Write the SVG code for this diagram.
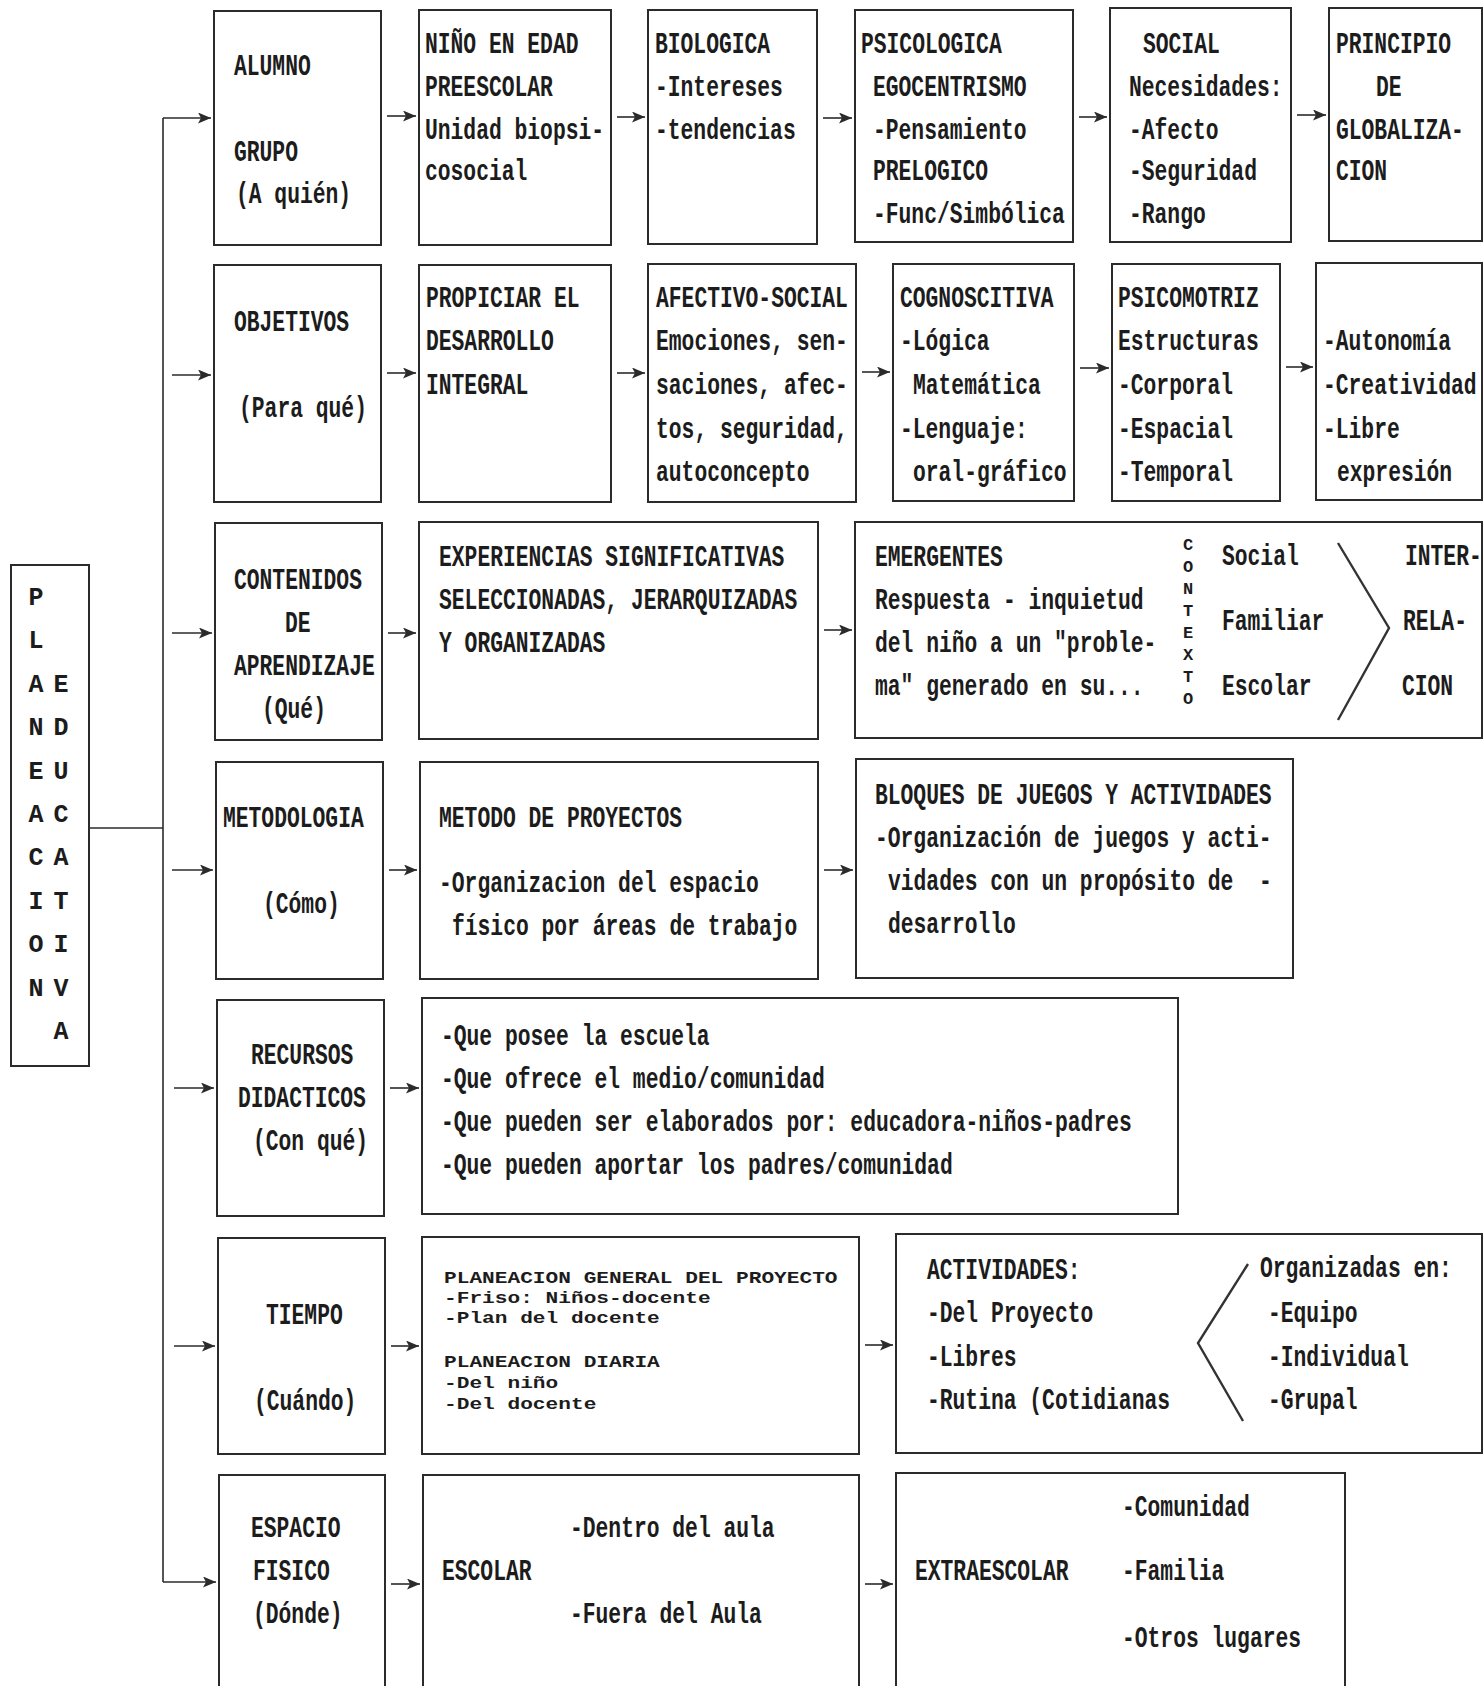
<svg xmlns="http://www.w3.org/2000/svg" width="1484" height="1686" viewBox="0 0 1484 1686">
<style>
.bx{fill:none;stroke:#2b2b2b;stroke-width:2}
.ln{fill:none;stroke:#2b2b2b;stroke-width:1.6}
.ch{fill:none;stroke:#333;stroke-width:2.4}
text{font-family:"Liberation Mono","DejaVu Sans Mono",monospace;font-weight:bold;fill:#1c1c1c}
.t{font-size:29px;transform-box:fill-box;transform-origin:0 0;transform:scaleX(0.7356)}
.s{font-size:17px;transform-box:fill-box;transform-origin:0 0;transform:scaleX(1.245)}
.c{font-size:17px;text-anchor:middle}
.v{font-size:25px;text-anchor:middle}
</style>
<defs>
<marker id="ah" viewBox="0 0 13 11" refX="13" refY="5.5" markerWidth="13" markerHeight="11" markerUnits="userSpaceOnUse" orient="auto">
<path d="M0,0 L13,5.5 L0,11 L3,5.5 Z" fill="#2b2b2b"/>
</marker>
</defs>
<rect width="1484" height="1686" fill="#fff"/>

<g id="connectors">
<line class="ln" x1="89" y1="828" x2="163" y2="828"/>
<line class="ln" x1="163" y1="118" x2="163" y2="1582"/>
<line class="ln" x1="163" y1="118" x2="211" y2="118" marker-end="url(#ah)"/>
<line class="ln" x1="172" y1="375" x2="211" y2="375" marker-end="url(#ah)"/>
<line class="ln" x1="172" y1="633" x2="212" y2="633" marker-end="url(#ah)"/>
<line class="ln" x1="172" y1="870" x2="213" y2="870" marker-end="url(#ah)"/>
<line class="ln" x1="174" y1="1088" x2="214" y2="1088" marker-end="url(#ah)"/>
<line class="ln" x1="174" y1="1346" x2="215" y2="1346" marker-end="url(#ah)"/>
<line class="ln" x1="163" y1="1582" x2="216" y2="1582" marker-end="url(#ah)"/>
<line class="ln" x1="387" y1="116" x2="416" y2="116" marker-end="url(#ah)"/>
<line class="ln" x1="617" y1="117" x2="645" y2="117" marker-end="url(#ah)"/>
<line class="ln" x1="823" y1="118" x2="852" y2="118" marker-end="url(#ah)"/>
<line class="ln" x1="1079" y1="117" x2="1107" y2="117" marker-end="url(#ah)"/>
<line class="ln" x1="1297" y1="115" x2="1326" y2="115" marker-end="url(#ah)"/>
<line class="ln" x1="387" y1="373" x2="416" y2="373" marker-end="url(#ah)"/>
<line class="ln" x1="617" y1="373" x2="645" y2="373" marker-end="url(#ah)"/>
<line class="ln" x1="862" y1="372" x2="890" y2="372" marker-end="url(#ah)"/>
<line class="ln" x1="1080" y1="368" x2="1109" y2="368" marker-end="url(#ah)"/>
<line class="ln" x1="1286" y1="367" x2="1313" y2="367" marker-end="url(#ah)"/>
<line class="ln" x1="388" y1="633" x2="416" y2="633" marker-end="url(#ah)"/>
<line class="ln" x1="824" y1="630" x2="852" y2="630" marker-end="url(#ah)"/>
<line class="ln" x1="389" y1="870" x2="417" y2="870" marker-end="url(#ah)"/>
<line class="ln" x1="824" y1="870" x2="853" y2="870" marker-end="url(#ah)"/>
<line class="ln" x1="390" y1="1088" x2="419" y2="1088" marker-end="url(#ah)"/>
<line class="ln" x1="391" y1="1346" x2="419" y2="1346" marker-end="url(#ah)"/>
<line class="ln" x1="865" y1="1345" x2="893" y2="1345" marker-end="url(#ah)"/>
<line class="ln" x1="391" y1="1584" x2="420" y2="1584" marker-end="url(#ah)"/>
<line class="ln" x1="865" y1="1584" x2="893" y2="1584" marker-end="url(#ah)"/>
</g>

<g id="planeacion">
<rect class="bx" x="11" y="565" width="78" height="501"/>
<text class="v" x="36" y="605">P</text>
<text class="v" x="36" y="648">L</text>
<text class="v" x="36" y="692">A</text>
<text class="v" x="36" y="735">N</text>
<text class="v" x="36" y="779">E</text>
<text class="v" x="36" y="822">A</text>
<text class="v" x="36" y="865">C</text>
<text class="v" x="36" y="909">I</text>
<text class="v" x="36" y="952">O</text>
<text class="v" x="36" y="996">N</text>
<text class="v" x="61" y="692">E</text>
<text class="v" x="61" y="735">D</text>
<text class="v" x="61" y="779">U</text>
<text class="v" x="61" y="822">C</text>
<text class="v" x="61" y="865">A</text>
<text class="v" x="61" y="909">T</text>
<text class="v" x="61" y="952">I</text>
<text class="v" x="61" y="996">V</text>
<text class="v" x="61" y="1039">A</text>
</g>

<g id="alumno">
<rect class="bx" x="214" y="11" width="167" height="234"/>
<text class="t" x="234" y="75">ALUMNO</text>
<text class="t" x="234" y="161">GRUPO</text>
<text class="t" x="236" y="203">(A quién)</text>
</g>
<g id="nino">
<rect class="bx" x="419" y="10" width="192" height="235"/>
<text class="t" x="425" y="53">NIÑO EN EDAD</text>
<text class="t" x="425" y="96">PREESCOLAR</text>
<text class="t" x="425" y="139">Unidad biopsi-</text>
<text class="t" x="425" y="180">cosocial</text>
</g>
<g id="biologica">
<rect class="bx" x="648" y="10" width="169" height="234"/>
<text class="t" x="655" y="53">BIOLOGICA</text>
<text class="t" x="655" y="96">-Intereses</text>
<text class="t" x="655" y="139">-tendencias</text>
</g>
<g id="psicologica">
<rect class="bx" x="855" y="10" width="218" height="232"/>
<text class="t" x="861" y="53">PSICOLOGICA</text>
<text class="t" x="873" y="96">EGOCENTRISMO</text>
<text class="t" x="873" y="139">-Pensamiento</text>
<text class="t" x="873" y="180">PRELOGICO</text>
<text class="t" x="873" y="223">-Func/Simbólica</text>
</g>
<g id="social">
<rect class="bx" x="1110" y="8" width="181" height="234"/>
<text class="t" x="1143" y="53">SOCIAL</text>
<text class="t" x="1129" y="96">Necesidades:</text>
<text class="t" x="1129" y="139">-Afecto</text>
<text class="t" x="1129" y="180">-Seguridad</text>
<text class="t" x="1129" y="223">-Rango</text>
</g>
<g id="principio">
<rect class="bx" x="1329" y="8" width="153" height="233"/>
<text class="t" x="1336" y="53">PRINCIPIO</text>
<text class="t" x="1376" y="96">DE</text>
<text class="t" x="1336" y="139">GLOBALIZA-</text>
<text class="t" x="1336" y="180">CION</text>
</g>

<g id="objetivos">
<rect class="bx" x="214" y="265" width="167" height="237"/>
<text class="t" x="234" y="331">OBJETIVOS</text>
<text class="t" x="239" y="417">(Para qué)</text>
</g>
<g id="propiciar">
<rect class="bx" x="419" y="265" width="192" height="237"/>
<text class="t" x="426" y="307">PROPICIAR EL</text>
<text class="t" x="426" y="350">DESARROLLO</text>
<text class="t" x="426" y="394">INTEGRAL</text>
</g>
<g id="afectivo">
<rect class="bx" x="648" y="264" width="208" height="238"/>
<text class="t" x="656" y="307">AFECTIVO-SOCIAL</text>
<text class="t" x="656" y="350">Emociones, sen-</text>
<text class="t" x="656" y="394">saciones, afec-</text>
<text class="t" x="656" y="438">tos, seguridad,</text>
<text class="t" x="656" y="481">autoconcepto</text>
</g>
<g id="cognoscitiva">
<rect class="bx" x="893" y="264" width="181" height="237"/>
<text class="t" x="900" y="307">COGNOSCITIVA</text>
<text class="t" x="900" y="350">-Lógica</text>
<text class="t" x="913" y="394">Matemática</text>
<text class="t" x="900" y="438">-Lenguaje:</text>
<text class="t" x="913" y="481">oral-gráfico</text>
</g>
<g id="psicomotriz">
<rect class="bx" x="1112" y="264" width="168" height="237"/>
<text class="t" x="1118" y="307">PSICOMOTRIZ</text>
<text class="t" x="1118" y="350">Estructuras</text>
<text class="t" x="1118" y="394">-Corporal</text>
<text class="t" x="1118" y="438">-Espacial</text>
<text class="t" x="1118" y="481">-Temporal</text>
</g>
<g id="autonomia">
<rect class="bx" x="1316" y="263" width="166" height="237"/>
<text class="t" x="1323" y="350">-Autonomía</text>
<text class="t" x="1323" y="394">-Creatividad</text>
<text class="t" x="1323" y="438">-Libre</text>
<text class="t" x="1337" y="481">expresión</text>
</g>

<g id="contenidos">
<rect class="bx" x="215" y="523" width="167" height="217"/>
<text class="t" x="234" y="589">CONTENIDOS</text>
<text class="t" x="285" y="632">DE</text>
<text class="t" x="234" y="675">APRENDIZAJE</text>
<text class="t" x="262" y="718">(Qué)</text>
</g>
<g id="experiencias">
<rect class="bx" x="419" y="522" width="399" height="217"/>
<text class="t" x="439" y="566">EXPERIENCIAS SIGNIFICATIVAS</text>
<text class="t" x="439" y="609">SELECCIONADAS, JERARQUIZADAS</text>
<text class="t" x="439" y="652">Y ORGANIZADAS</text>
</g>
<g id="emergentes">
<rect class="bx" x="855" y="522" width="627" height="216"/>
<text class="t" x="875" y="566">EMERGENTES</text>
<text class="t" x="875" y="609">Respuesta - inquietud</text>
<text class="t" x="875" y="652">del niño a un "proble-</text>
<text class="t" x="875" y="695">ma" generado en su...</text>
<text class="c" x="1188" y="550">C<tspan x="1188" dy="22">O</tspan><tspan x="1188" dy="22">N</tspan><tspan x="1188" dy="22">T</tspan><tspan x="1188" dy="22">E</tspan><tspan x="1188" dy="22">X</tspan><tspan x="1188" dy="22">T</tspan><tspan x="1188" dy="22">O</tspan></text>
<text class="t" x="1222" y="565">Social</text>
<text class="t" x="1222" y="630">Familiar</text>
<text class="t" x="1222" y="695">Escolar</text>
<polyline class="ch" points="1338,543 1389,628 1338,720"/>
<text class="t" x="1405" y="565">INTER-</text>
<text class="t" x="1403" y="630">RELA-</text>
<text class="t" x="1402" y="695">CION</text>
</g>

<g id="metodologia">
<rect class="bx" x="216" y="762" width="167" height="217"/>
<text class="t" x="223" y="827">METODOLOGIA</text>
<text class="t" x="263" y="913">(Cómo)</text>
</g>
<g id="metodo">
<rect class="bx" x="420" y="762" width="398" height="217"/>
<text class="t" x="439" y="827">METODO DE PROYECTOS</text>
<text class="t" x="439" y="892">-Organizacion del espacio</text>
<text class="t" x="452" y="935">físico por áreas de trabajo</text>
</g>
<g id="bloques">
<rect class="bx" x="856" y="759" width="437" height="219"/>
<text class="t" x="875" y="804">BLOQUES DE JUEGOS Y ACTIVIDADES</text>
<text class="t" x="875" y="847">-Organización de juegos y acti-</text>
<text class="t" x="888" y="890" xml:space="preserve">vidades con un propósito de  -</text>
<text class="t" x="888" y="933">desarrollo</text>
</g>

<g id="recursos">
<rect class="bx" x="217" y="1000" width="167" height="216"/>
<text class="t" x="251" y="1064">RECURSOS</text>
<text class="t" x="238" y="1107">DIDACTICOS</text>
<text class="t" x="253" y="1150">(Con qué)</text>
</g>
<g id="recursos-lista">
<rect class="bx" x="422" y="998" width="756" height="216"/>
<text class="t" x="441" y="1045">-Que posee la escuela</text>
<text class="t" x="441" y="1088">-Que ofrece el medio/comunidad</text>
<text class="t" x="441" y="1131">-Que pueden ser elaborados por: educadora-niños-padres</text>
<text class="t" x="441" y="1174">-Que pueden aportar los padres/comunidad</text>
</g>

<g id="tiempo">
<rect class="bx" x="218" y="1238" width="167" height="216"/>
<text class="t" x="266" y="1324">TIEMPO</text>
<text class="t" x="254" y="1410">(Cuándo)</text>
</g>
<g id="planeacion-proyecto">
<rect class="bx" x="422" y="1237" width="437" height="217"/>
<text class="s" x="444" y="1283">PLANEACION GENERAL DEL PROYECTO</text>
<text class="s" x="444" y="1303">-Friso: Niños-docente</text>
<text class="s" x="444" y="1323">-Plan del docente</text>
<text class="s" x="444" y="1367">PLANEACION DIARIA</text>
<text class="s" x="444" y="1388">-Del niño</text>
<text class="s" x="444" y="1409">-Del docente</text>
</g>
<g id="actividades">
<rect class="bx" x="896" y="1234" width="586" height="219"/>
<text class="t" x="927" y="1279">ACTIVIDADES:</text>
<text class="t" x="927" y="1322">-Del Proyecto</text>
<text class="t" x="927" y="1366">-Libres</text>
<text class="t" x="927" y="1409">-Rutina (Cotidianas</text>
<polyline class="ch" points="1248,1264 1198,1343 1243,1421"/>
<text class="t" x="1260" y="1277">Organizadas en:</text>
<text class="t" x="1268" y="1322">-Equipo</text>
<text class="t" x="1268" y="1366">-Individual</text>
<text class="t" x="1268" y="1409">-Grupal</text>
</g>

<g id="espacio">
<rect class="bx" x="219" y="1475" width="166" height="230"/>
<text class="t" x="251" y="1537">ESPACIO</text>
<text class="t" x="253" y="1580">FISICO</text>
<text class="t" x="253" y="1623">(Dónde)</text>
</g>
<g id="escolar">
<rect class="bx" x="423" y="1475" width="436" height="230"/>
<text class="t" x="442" y="1580">ESCOLAR</text>
<text class="t" x="570" y="1537">-Dentro del aula</text>
<text class="t" x="570" y="1623">-Fuera del Aula</text>
</g>
<g id="extraescolar">
<rect class="bx" x="896" y="1473" width="449" height="232"/>
<text class="t" x="915" y="1580">EXTRAESCOLAR</text>
<text class="t" x="1122" y="1516">-Comunidad</text>
<text class="t" x="1122" y="1580">-Familia</text>
<text class="t" x="1122" y="1647">-Otros lugares</text>
</g>
</svg>
